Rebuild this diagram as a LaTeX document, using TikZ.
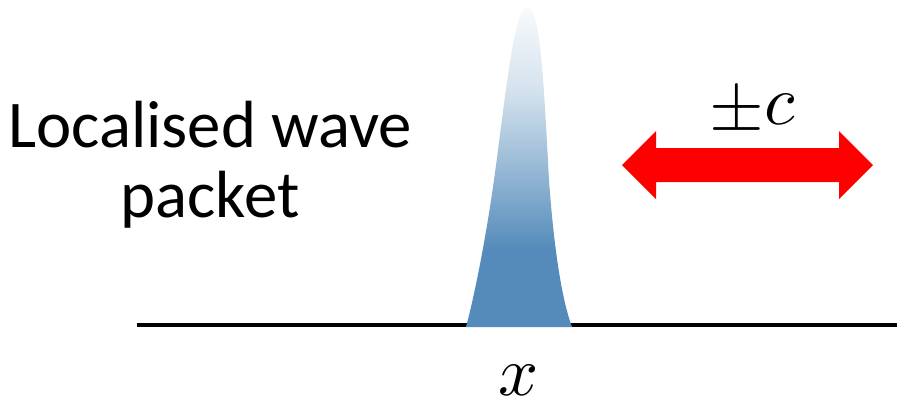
\documentclass[tikz,border=0pt]{standalone}
\usepackage{fontspec}
\usepackage{unicode-math}
\setmainfont{Carlito}
\setmathfont{Latin Modern Math}
\usetikzlibrary{positioning}

\definecolor{packetBlue}{RGB}{84,139,186}
\definecolor{lineColor}{RGB}{0,0,0}
\definecolor{moveRed}{RGB}{255,0,0}

% vertical fade of the packet (path box = 25bp..75bp)
\pgfdeclareverticalshading{packetfade}{100bp}{%
  color(0bp)=(packetBlue); color(25bp)=(packetBlue); color(37bp)=(packetBlue);
  color(50bp)=(packetBlue!60); color(62bp)=(packetBlue!25);
  color(75bp)=(packetBlue!4); color(100bp)=(packetBlue!4)}

\begin{document}
\begin{tikzpicture}[
  x=0.02cm, y=-0.02cm,
  axis/.style={draw=lineColor, line width=2.3pt},
  packet/.style={shading=packetfade},
  motion/.style={fill=moveRed},
  label/.style={font=\fontsize{38}{39.7}\selectfont, text=lineColor, align=center, anchor=base},
  mathlabel/.style={font=\fontsize{40}{42}\selectfont, text=lineColor, anchor=base, inner sep=0pt}
]
\useasboundingbox (0,0) rectangle (897,410);

% Axis line
\draw[axis] (137,325) -- (897,325);

% Wave packet
\shade[packet] (466,327) .. controls (476,290) and (487,230) .. (494,180)
  .. controls (505,100) and (514,7) .. (527,7)
  .. controls (541,7) and (544,90) .. (549,180)
  .. controls (554,250) and (562,300) .. (572,327) -- cycle;

% Two-way arrow
\fill[motion] (622,165) -- (656,131) -- (656,148) -- (839,148) -- (839,131)
  -- (873,165) -- (839,199) -- (839,182) -- (656,182) -- (656,199) -- cycle;

% Labels (base = last line)
\node[label] (packetlabel) at (210,217) {Localised wave\\packet};
\node[mathlabel] (speed) at (753,124) {$\pm c$};
\node[mathlabel] (position) at (519,395) {$x$};

\end{tikzpicture}
\end{document}
